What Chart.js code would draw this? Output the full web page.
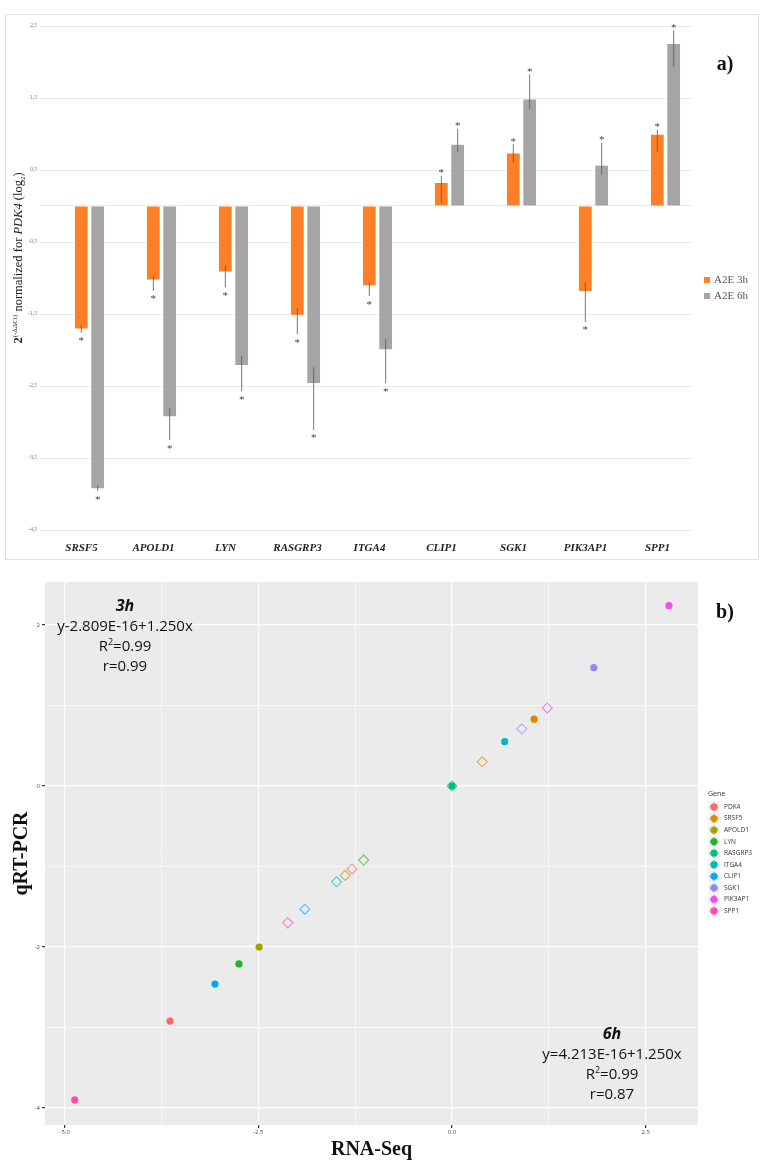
<!DOCTYPE html>
<html>
<head>
<meta charset="utf-8">
<script src="https://cdn.jsdelivr.net/npm/chart.js@4.4.0/dist/chart.umd.min.js"></script>
<style>
  html, body { margin: 0; padding: 0; background: #fff; }
  canvas { display: block; }
</style>
</head>
<body>
<canvas id="barChart" width="768" height="565"></canvas>
<canvas id="scatterChart" width="768" height="600"></canvas>
<script>
// ---- panel a) data ----
const barGenes = ['SRSF5', 'APOLD1', 'LYN', 'RASGRP3', 'ITGA4', 'CLIP1', 'SGK1', 'PIK3AP1', 'SPP1'];
const fold3h = [-1.70, -1.02, -0.91, -1.51, -1.10, 0.32, 0.73, -1.18, 0.99];
const fold6h = [-3.92, -2.92, -2.21, -2.46, -1.99, 0.85, 1.48, 0.56, 2.25];
// error bar ends (low / high)
const err3hLow  = [-1.76, -1.18, -1.13, -1.78, -1.25, 0.04, 0.60, -1.61, 0.75];
const err3hHigh = [-1.66, -0.97, -0.83, -1.42, -1.06, 0.42, 0.86, -1.06, 1.06];
const err6hLow  = [-3.96, -3.25, -2.57, -3.11, -2.46, 0.75, 1.35, 0.44, 1.94];
const err6hHigh = [-3.88, -2.81, -2.08, -2.24, -1.85, 1.07, 1.83, 0.88, 2.44];
const barTicks = [-4.5, -3.5, -2.5, -1.5, -0.5, 0, 0.5, 1.5, 2.5];

// ---- panel b) data ----
const genes = ['PDK4', 'SRSF5', 'APOLD1', 'LYN', 'RASGRP3', 'ITGA4', 'CLIP1', 'SGK1', 'PIK3AP1', 'SPP1'];
const geneColors = ['#FA6A5E', '#E08800', '#A0A200', '#22B422', '#00BE7A', '#00BAC0', '#00A8F6', '#8E88FF', '#EE4EF4', '#FF4AB2'];
const rnaSeq3h = [-3.64, 1.06, -2.49, -2.75, 0.00, 0.68, -3.06, 1.83, 2.80, -4.87];
const qpcr3h   = [-2.92, 0.83, -2.00, -2.21, 0.00, 0.55, -2.46, 1.47, 2.24, -3.90];
const rnaSeq6h = [-1.29, 0.39, -1.38, -1.14, 0.00, -1.49, -1.90, 0.90, 1.23, -2.12];
const qpcr6h   = [-1.03, 0.30, -1.11, -0.92, 0.00, -1.19, -1.53, 0.71, 0.97, -1.70];
const xTicksB = [-5, -3.75, -2.5, -1.25, 0, 1.25, 2.5];
const yTicksB = [-4, -3, -2, -1, 0, 1, 2];

const SERIF = '"Liberation Serif", "DejaVu Serif", serif';
const SANS = '"Open Sans", "Liberation Sans", sans-serif';

function drawRuns(ctx, runs, x, y, align) {
  let total = 0;
  runs.forEach(r => { ctx.font = r.font; r.w = ctx.measureText(r.text).width; total += r.w; });
  let cx = align === 'center' ? x - total / 2 : x;
  ctx.textAlign = 'left';
  ctx.textBaseline = 'alphabetic';
  runs.forEach(r => { ctx.font = r.font; ctx.fillText(r.text, cx, y + (r.dy || 0)); cx += r.w; });
}

// ---- panel a) ----
const barExtras = {
  id: 'barExtras',
  beforeDraw(chart) {
    const ctx = chart.ctx;
    ctx.save();
    ctx.strokeStyle = '#e2e2e2';
    ctx.lineWidth = 1;
    ctx.strokeRect(5.5, 14.5, 753, 545);
    ctx.restore();
  },
  afterDatasetsDraw(chart) {
    const ctx = chart.ctx;
    const y = chart.scales.y;
    const errs = [[err3hLow, err3hHigh], [err6hLow, err6hHigh]];
    ctx.save();
    chart.data.datasets.forEach((ds, di) => {
      chart.getDatasetMeta(di).data.forEach((bar, i) => {
        const lo = y.getPixelForValue(errs[di][0][i]);
        const hi = y.getPixelForValue(errs[di][1][i]);
        ctx.strokeStyle = '#555';
        ctx.lineWidth = 0.8;
        ctx.beginPath();
        ctx.moveTo(bar.x, lo);
        ctx.lineTo(bar.x, hi);
        ctx.stroke();
        const neg = ds.data[i].y < 0;
        ctx.fillStyle = '#444';
        ctx.font = '11px ' + SERIF;
        ctx.textAlign = 'center';
        ctx.textBaseline = 'alphabetic';
        ctx.fillText('*', bar.x, (neg ? lo + 6 : hi - 5) + 5.5);
      });
    });

    // y axis title
    ctx.save();
    ctx.translate(22, 258);
    ctx.rotate(-Math.PI / 2);
    ctx.fillStyle = '#222';
    drawRuns(ctx, [
      { text: '2', font: 'bold 12.5px ' + SERIF },
      { text: '(-ΔΔCt)', font: '7px ' + SERIF, dy: -5 },
      { text: ' normalized for ', font: '12.5px ' + SERIF },
      { text: 'PDK4', font: 'italic 12.5px ' + SERIF },
      { text: ' (log', font: '12.5px ' + SERIF },
      { text: '2', font: '7px ' + SERIF, dy: 3 },
      { text: ')', font: '12.5px ' + SERIF }
    ], 0, 0, 'center');
    ctx.restore();

    // legend
    const legendItems = [['A2E 3h', '#FF7F27', 280], ['A2E 6h', '#A5A5A5', 296]];
    legendItems.forEach(([label, color, cy]) => {
      ctx.fillStyle = color;
      ctx.fillRect(704, cy - 3, 6, 6);
      ctx.fillStyle = '#555';
      ctx.font = '11px ' + SERIF;
      ctx.textAlign = 'left';
      ctx.textBaseline = 'middle';
      ctx.fillText(label, 714, cy);
    });

    ctx.fillStyle = '#111';
    ctx.font = 'bold 20px ' + SERIF;
    ctx.textAlign = 'center';
    ctx.textBaseline = 'middle';
    ctx.fillText('a)', 725, 65);
    ctx.restore();
  }
};

new Chart(document.getElementById('barChart'), {
  type: 'bar',
  data: {
    datasets: [
      {
        label: 'A2E 3h',
        data: barGenes.map((g, i) => ({ x: i, y: fold3h[i] })),
        backgroundColor: '#FF7F27',
        categoryPercentage: 0.454,
        barPercentage: 0.78
      },
      {
        label: 'A2E 6h',
        data: barGenes.map((g, i) => ({ x: i, y: fold6h[i] })),
        backgroundColor: '#A5A5A5',
        categoryPercentage: 0.454,
        barPercentage: 0.78
      }
    ]
  },
  options: {
    responsive: false,
    animation: false,
    layout: { padding: { top: 26, right: 76, bottom: 0, left: 0 } },
    plugins: { legend: { display: false }, tooltip: { enabled: false } },
    scales: {
      x: {
        type: 'linear',
        offset: false,
        min: -0.6875,
        max: 8.368,
        afterBuildTicks: s => { s.ticks = barGenes.map((g, i) => ({ value: i })); },
        afterFit: s => { s.height = 35; },
        grid: { display: false, drawTicks: false },
        border: { display: false },
        ticks: {
          autoSkip: false,
          maxRotation: 0,
          padding: 12,
          labelOffset: -8,
          color: '#222',
          font: { family: SERIF, size: 11, style: 'italic', weight: 'bold' },
          callback: v => barGenes[v]
        }
      },
      y: {
        min: -4.5,
        max: 2.5,
        afterBuildTicks: s => { s.ticks = barTicks.map(v => ({ value: v })); },
        afterFit: s => { s.width = 40; },
        grid: { color: '#ebebeb', drawTicks: false },
        border: { display: false },
        ticks: {
          padding: 3,
          color: '#777',
          font: { family: SERIF, size: 5.5 },
          callback: v => v === 0 ? '' : v.toFixed(1).replace('.', ',')
        }
      }
    }
  },
  plugins: [barExtras]
});

// ---- panel b) ----
const isMajor = (v, step) => Math.abs(v / step - Math.round(v / step)) < 1e-6;

const scatterExtras = {
  id: 'scatterExtras',
  beforeDraw(chart) {
    const { ctx, chartArea: a } = chart;
    ctx.save();
    ctx.fillStyle = '#EBEBEB';
    ctx.fillRect(a.left, a.top, a.right - a.left, a.bottom - a.top);
    ctx.restore();
  },
  afterDraw(chart) {
    const ctx = chart.ctx;
    ctx.save();
    ctx.fillStyle = '#111';
    const blocks = [
      [125, 46, '3h', 'y-2.809E-16+1.250x', '0.99'],
      [612, 474, '6h', 'y=4.213E-16+1.250x', '0.87']
    ];
    blocks.forEach(([cx, y0, head, eq, r]) => {
      drawRuns(ctx, [{ text: head, font: 'italic bold 16px ' + SANS }], cx, y0, 'center');
      drawRuns(ctx, [{ text: eq, font: '15px ' + SANS }], cx, y0 + 20, 'center');
      drawRuns(ctx, [
        { text: 'R', font: '15px ' + SANS },
        { text: '2', font: '9px ' + SANS, dy: -6 },
        { text: '=0.99', font: '15px ' + SANS }
      ], cx, y0 + 40, 'center');
      drawRuns(ctx, [{ text: 'r=' + r, font: '15px ' + SANS }], cx, y0 + 60, 'center');
    });

    // legend
    ctx.fillStyle = '#333';
    ctx.font = '7px ' + SANS;
    ctx.textAlign = 'left';
    ctx.textBaseline = 'middle';
    ctx.fillText('Gene', 708, 229);
    genes.forEach((g, i) => {
      const cy = 242 + i * 11.55;
      ctx.fillStyle = '#F2F2F2';
      ctx.fillRect(708.5, cy - 5.5, 11, 11);
      ctx.fillStyle = geneColors[i];
      ctx.beginPath();
      ctx.arc(714, cy, 3.4, 0, Math.PI * 2);
      ctx.fill();
      ctx.strokeStyle = geneColors[i];
      ctx.globalAlpha = 0.6;
      ctx.lineWidth = 1;
      ctx.beginPath();
      ctx.moveTo(714, cy - 4.5); ctx.lineTo(718.5, cy); ctx.lineTo(714, cy + 4.5); ctx.lineTo(709.5, cy); ctx.closePath();
      ctx.stroke();
      ctx.globalAlpha = 1;
      ctx.fillStyle = '#333';
      ctx.font = '6.5px ' + SANS;
      ctx.fillText(g, 724, cy);
    });

    ctx.fillStyle = '#111';
    ctx.font = 'bold 20px ' + SERIF;
    ctx.textAlign = 'center';
    ctx.textBaseline = 'middle';
    ctx.fillText('b)', 725, 48);
    ctx.restore();
  }
};

new Chart(document.getElementById('scatterChart'), {
  type: 'scatter',
  data: {
    datasets: genes.map((g, i) => ({
      label: g,
      data: [{ x: rnaSeq3h[i], y: qpcr3h[i] }, { x: rnaSeq6h[i], y: qpcr6h[i] }],
      pointStyle: ['circle', 'rectRot'],
      pointRadius: [3.6, 5],
      pointBackgroundColor: [geneColors[i], 'rgba(0,0,0,0)'],
      pointBorderColor: [geneColors[i], geneColors[i] + 'AA'],
      pointBorderWidth: [0, 1.1]
    }))
  },
  options: {
    responsive: false,
    animation: false,
    layout: { padding: { top: 17, right: 70, bottom: 0, left: 0 } },
    plugins: { legend: { display: false }, tooltip: { enabled: false } },
    scales: {
      x: {
        type: 'linear',
        min: -5.254,
        max: 3.175,
        afterBuildTicks: s => { s.ticks = xTicksB.map(v => ({ value: v })); },
        afterFit: s => { s.height = 40; },
        grid: {
          color: '#ffffff',
          lineWidth: c => (c.tick && isMajor(c.tick.value, 2.5)) ? 1.2 : 0.6,
          tickLength: 3,
          tickColor: c => (c.tick && isMajor(c.tick.value, 2.5)) ? '#333' : 'rgba(0,0,0,0)'
        },
        border: { display: false },
        ticks: {
          padding: 1,
          color: '#4d4d4d',
          font: { family: SANS, size: 6 },
          callback: v => isMajor(v, 2.5) ? v.toFixed(1) : ''
        },
        title: {
          display: true,
          text: 'RNA-Seq',
          color: '#111',
          font: { family: SERIF, size: 20, weight: 'bold' },
          padding: { top: 0, bottom: 3 }
        }
      },
      y: {
        min: -4.211,
        max: 2.534,
        afterBuildTicks: s => { s.ticks = yTicksB.map(v => ({ value: v })); },
        afterFit: s => { s.width = 45; },
        grid: {
          color: '#ffffff',
          lineWidth: c => (c.tick && isMajor(c.tick.value, 2)) ? 1.2 : 0.6,
          tickLength: 3,
          tickColor: c => (c.tick && isMajor(c.tick.value, 2)) ? '#333' : 'rgba(0,0,0,0)'
        },
        border: { display: false },
        ticks: {
          padding: 2,
          color: '#4d4d4d',
          font: { family: SANS, size: 6 },
          callback: v => isMajor(v, 2) ? String(v) : ''
        },
        title: {
          display: true,
          text: 'qRT-PCR',
          color: '#111',
          font: { family: SERIF, size: 20, weight: 'bold' },
          padding: { top: 10, bottom: 0 }
        }
      }
    }
  },
  plugins: [scatterExtras]
});
</script>
</body>
</html>
